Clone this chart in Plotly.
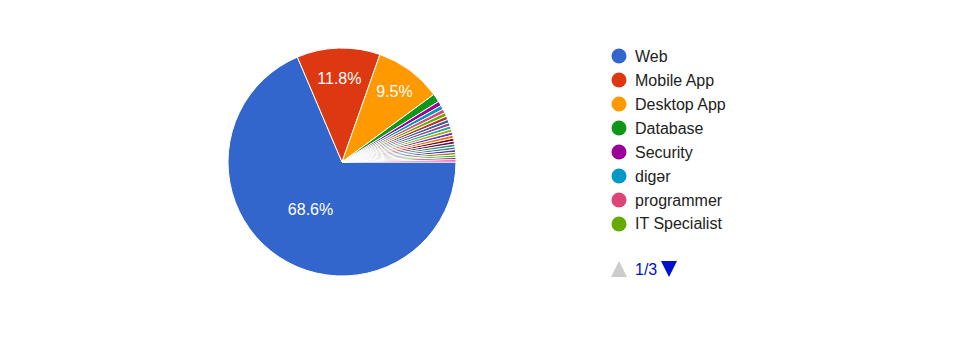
import plotly.graph_objects as go

labels = ["Web", "Mobile App", "Desktop App", "Database", "Security", "digər",
          "programmer", "IT Specialist", "Game Dev", "Data Science", "DevOps",
          "AI", "Embedded", "QA", "Network", "System Admin", "Cloud",
          "Blockchain", "UI/UX", "Backend", "Frontend", "Full Stack",
          "Robotics", "Other"]
values = [68.6, 11.8, 9.5, 1.2, 0.65, 0.6, 0.55, 0.52, 0.5, 0.48, 0.47, 0.46,
          0.45, 0.44, 0.43, 0.42, 0.41, 0.40, 0.39, 0.38, 0.37, 0.34, 0.32, 0.32]
colors = ["#3366cc", "#dc3912", "#ff9900", "#109618", "#990099", "#0099c6",
          "#dd4477", "#66aa00", "#b82e2e", "#316395", "#994499", "#22aa99",
          "#aaaa11", "#6633cc", "#e67300", "#8b0707", "#651067", "#329262",
          "#5574a6", "#3b3eac", "#b77322", "#16d620", "#b91383", "#f4359e"]
page_label = "1/3"
legend_per_page = 8

W, H = 974, 356
OFF = 8  # page body margin
total = sum(values)
texts = [f"{v / total * 100:.1f}%" if v / total >= 0.05 else "" for v in values]


def px(x):
    return (x - OFF) / W


def py_(y):
    return (H - (y - OFF)) / H


cx, cy, r = 342, 162, 114
fig = go.Figure()
fig.add_trace(go.Pie(
    labels=labels, values=values, sort=False, direction="clockwise", rotation=90,
    marker=dict(colors=colors, line=dict(color="white", width=1)),
    text=texts, textinfo="text", textposition="inside",
    insidetextorientation="horizontal",
    textfont=dict(color="white", size=16, family="Liberation Sans, Arial"),
    domain=dict(x=[px(cx - r), px(cx + r)], y=[py_(cy + r), py_(cy - r)]),
    showlegend=False, hoverinfo="label+percent",
))

shapes = []
annotations = []
lx, ly0, step = 619, 56, 24
for i in range(legend_per_page):
    y = ly0 + i * step
    shapes.append(dict(type="circle", xref="paper", yref="paper",
                       x0=px(lx - 7.5), x1=px(lx + 7.5),
                       y0=py_(y + 7.5), y1=py_(y - 7.5),
                       fillcolor=colors[i], line=dict(width=0)))
    annotations.append(dict(x=px(lx + 14), y=py_(y), xref="paper", yref="paper",
                            text=labels[i], showarrow=False, xanchor="left", yanchor="middle",
                            font=dict(size=16, color="#222222", family="Liberation Sans, Arial")))

pgy = 269
shapes.append(dict(type="path", xref="paper", yref="paper",
                   path=f"M {px(lx-8)},{py_(pgy+8)} L {px(lx+8)},{py_(pgy+8)} L {px(lx)},{py_(pgy-8)} Z",
                   fillcolor="#cccccc", line=dict(width=0)))
shapes.append(dict(type="path", xref="paper", yref="paper",
                   path=f"M {px(669-8)},{py_(pgy-8)} L {px(669+8)},{py_(pgy-8)} L {px(669)},{py_(pgy+8)} Z",
                   fillcolor="#0011cc", line=dict(width=0)))
annotations.append(dict(x=px(lx + 14), y=py_(pgy), xref="paper", yref="paper",
                        text=page_label, showarrow=False, xanchor="left", yanchor="middle",
                        font=dict(size=16, color="#0011cc", family="Liberation Sans, Arial")))

fig.update_layout(width=W, height=H, margin=dict(l=0, r=0, t=0, b=0),
                  paper_bgcolor="white", plot_bgcolor="white",
                  shapes=shapes, annotations=annotations)
fig.write_html("out.html")
